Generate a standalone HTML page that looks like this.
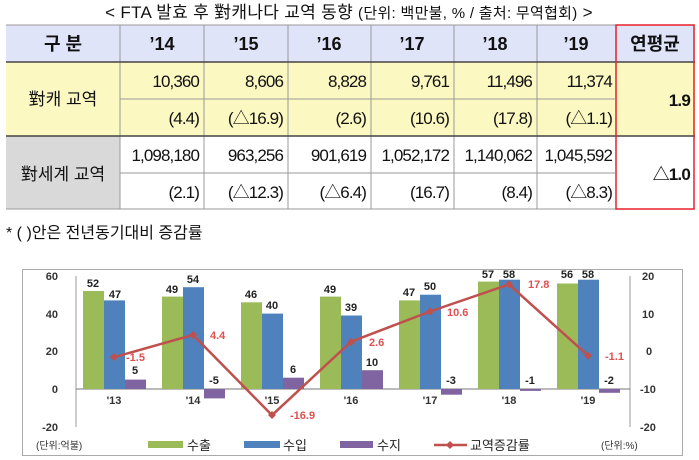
<!DOCTYPE html>
<html><head><meta charset="utf-8"><style>
html,body{margin:0;padding:0;background:#fff;}
svg{display:block;font-family:"Liberation Sans","Noto Sans CJK KR",sans-serif;}
</style></head><body>
<svg width="699" height="460" viewBox="0 0 699 460" xmlns="http://www.w3.org/2000/svg">
<text x="349" y="18" font-size="17" text-anchor="middle" fill="#111" letter-spacing="0.3">&lt; FTA 발효 후 對캐나다 교역 동향 <tspan font-size="15">(단위: 백만불, % / 출처: 무역협회)</tspan> &gt;</text>
<rect x="6" y="25" width="689" height="37" fill="#dfe4f8"/>
<rect x="6" y="62" width="689" height="74" fill="#fbf8c2"/>
<rect x="6" y="136" width="114" height="73" fill="#d9d9d9"/>
<g stroke="#9a9a9a" stroke-width="1">
<line x1="6" y1="25" x2="695" y2="25"/>
<line x1="120" y1="99" x2="615" y2="99"/>
<line x1="120" y1="173" x2="615" y2="173"/>
<line x1="6" y1="209" x2="695" y2="209"/>
<line x1="120" y1="25" x2="120" y2="209"/>
<line x1="204" y1="25" x2="204" y2="209"/>
<line x1="288" y1="25" x2="288" y2="209"/>
<line x1="371" y1="25" x2="371" y2="209"/>
<line x1="454" y1="25" x2="454" y2="209"/>
<line x1="537" y1="25" x2="537" y2="209"/>
</g>
<line x1="6" y1="62" x2="695" y2="62" stroke="#444" stroke-width="1.5"/>
<line x1="6" y1="136" x2="695" y2="136" stroke="#444" stroke-width="1.5"/>
<rect x="616" y="25" width="78" height="184" fill="none" stroke="#e8202a" stroke-width="1.5"/>
<g font-size="18" font-weight="bold" text-anchor="middle" fill="#111">
<text x="63" y="50">구 분</text>
<text x="162" y="50">’14</text>
<text x="246" y="50">’15</text>
<text x="329" y="50">’16</text>
<text x="412" y="50">’17</text>
<text x="495" y="50">’18</text>
<text x="576" y="50">’19</text>
<text x="655" y="50">연평균</text>
</g>
<g font-size="17" fill="#111">
<text x="63" y="105" text-anchor="middle">對캐 교역</text>
<text x="63" y="180" text-anchor="middle">對세계 교역</text>
</g>
<g font-size="17" text-anchor="end" fill="#111" letter-spacing="-0.9">
<text x="199" y="87">10,360</text><text x="283" y="87">8,606</text><text x="366" y="87">8,828</text><text x="449" y="87">9,761</text><text x="532" y="87">11,496</text><text x="612" y="87">11,374</text>
<text x="199" y="124">(4.4)</text><text x="283" y="124">(△16.9)</text><text x="366" y="124">(2.6)</text><text x="449" y="124">(10.6)</text><text x="532" y="124">(17.8)</text><text x="612" y="124">(△1.1)</text>
<text x="199" y="161">1,098,180</text><text x="283" y="161">963,256</text><text x="366" y="161">901,619</text><text x="449" y="161">1,052,172</text><text x="532" y="161">1,140,062</text><text x="612" y="161">1,045,592</text>
<text x="199" y="198">(2.1)</text><text x="283" y="198">(△12.3)</text><text x="366" y="198">(△6.4)</text><text x="449" y="198">(16.7)</text><text x="532" y="198">(8.4)</text><text x="612" y="198">(△8.3)</text>
</g>
<g font-size="17" font-weight="bold" text-anchor="end" fill="#111" letter-spacing="-0.8">
<text x="690" y="106">1.9</text>
<text x="690" y="180">△1.0</text>
</g>
<text x="6" y="238" font-size="16" fill="#111">* ( )안은 전년동기대비 증감률</text>

<rect x="22.5" y="269.5" width="660" height="186" fill="#fff" stroke="#aaa"/>
<line x1="76" y1="276" x2="76" y2="427" stroke="#999"/>
<line x1="630" y1="276" x2="630" y2="427" stroke="#999"/>
<line x1="76" y1="389" x2="630" y2="389" stroke="#777"/>
<g font-size="11" font-weight="bold" fill="#333" text-anchor="end">
<text x="58" y="280">60</text><text x="58" y="318">40</text><text x="58" y="355">20</text><text x="58" y="393">0</text><text x="58" y="431">-20</text>
</g>
<g font-size="11" font-weight="bold" fill="#333">
<text x="642" y="280">20</text><text x="642" y="318">10</text><text x="646" y="355">0</text><text x="640" y="393">-10</text><text x="640" y="431">-20</text>
</g>
<g font-size="11" font-weight="bold" fill="#222" text-anchor="middle">
<rect x="83" y="291" width="21" height="98" fill="#9bbb59"/>
<rect x="104" y="300.4" width="21" height="88.6" fill="#4f81bd"/>
<rect x="125" y="379.6" width="21" height="9.4" fill="#8064a2"/>
<text x="93" y="287">52</text><text x="115" y="298">47</text><text x="135" y="374">5</text>
<rect x="162" y="296.6" width="21" height="92.4" fill="#9bbb59"/>
<rect x="183" y="287.2" width="21" height="101.8" fill="#4f81bd"/>
<rect x="204" y="389" width="21" height="9.4" fill="#8064a2"/>
<text x="172" y="293">49</text><text x="193" y="283">54</text><text x="214" y="384">-5</text>
<rect x="241" y="302.3" width="21" height="86.7" fill="#9bbb59"/>
<rect x="262" y="313.6" width="21" height="75.4" fill="#4f81bd"/>
<rect x="283" y="377.7" width="21" height="11.3" fill="#8064a2"/>
<text x="251" y="298">46</text><text x="272" y="309">40</text><text x="293" y="373">6</text>
<rect x="320" y="296.6" width="21" height="92.4" fill="#9bbb59"/>
<rect x="341" y="315.5" width="21" height="73.5" fill="#4f81bd"/>
<rect x="362" y="370.2" width="21" height="18.8" fill="#8064a2"/>
<text x="330" y="293">49</text><text x="351" y="311">39</text><text x="372" y="366">10</text>
<rect x="399" y="300.4" width="21" height="88.6" fill="#9bbb59"/>
<rect x="420" y="294.7" width="21" height="94.3" fill="#4f81bd"/>
<rect x="441" y="389" width="21" height="5.7" fill="#8064a2"/>
<text x="409" y="296">47</text><text x="430" y="290">50</text><text x="451" y="384">-3</text>
<rect x="478" y="281.6" width="21" height="107.4" fill="#9bbb59"/>
<rect x="499" y="279.7" width="21" height="109.3" fill="#4f81bd"/>
<rect x="520" y="389" width="21" height="1.9" fill="#8064a2"/>
<text x="488" y="278">57</text><text x="509" y="278">58</text><text x="530" y="384">-1</text>
<rect x="557" y="283.5" width="21" height="105.5" fill="#9bbb59"/>
<rect x="578" y="279.7" width="21" height="109.3" fill="#4f81bd"/>
<rect x="599" y="389" width="21" height="3.8" fill="#8064a2"/>
<text x="567" y="278">56</text><text x="588" y="278">58</text><text x="609" y="384">-2</text>
</g>
<g font-size="11" font-weight="bold" fill="#333" text-anchor="middle">
<text x="114" y="404">'13</text><text x="193" y="404">'14</text><text x="272" y="404">'15</text><text x="351" y="404">'16</text><text x="430" y="404">'17</text><text x="509" y="404">'18</text><text x="588" y="404">'19</text>
</g>
<polyline points="114,357.2 193,334.9 272,415.2 351,341.7 430,311.5 509,284.4 588,355.6" fill="none" stroke="#c0504d" stroke-width="2.5"/>
<g fill="#c0504d">
<path d="M114,353 l4,4 l-4,4 l-4,-4z"/><path d="M193,331 l4,4 l-4,4 l-4,-4z"/><path d="M272,411 l4,4 l-4,4 l-4,-4z"/><path d="M351,338 l4,4 l-4,4 l-4,-4z"/><path d="M430,307.5 l4,4 l-4,4 l-4,-4z"/><path d="M509,280.4 l4,4 l-4,4 l-4,-4z"/><path d="M588,351.6 l4,4 l-4,4 l-4,-4z"/>
</g>
<g font-size="11" font-weight="bold" fill="#e05050">
<text x="126" y="361">-1.5</text><text x="210" y="339">4.4</text><text x="290" y="419">-16.9</text><text x="369" y="346">2.6</text><text x="447" y="316">10.6</text><text x="528" y="288">17.8</text><text x="605" y="360">-1.1</text>
</g>
<g font-size="10" fill="#333"><text x="36" y="449">(단위:억불)</text><text x="601" y="449">(단위:%)</text></g>
<rect x="148" y="441" width="35" height="7" fill="#9bbb59"/>
<rect x="244" y="441" width="36" height="7" fill="#4f81bd"/>
<rect x="340" y="441" width="33" height="7" fill="#8064a2"/>
<line x1="434" y1="445" x2="467" y2="445" stroke="#c0504d" stroke-width="2.5"/>
<path d="M450,441 l4,4 l-4,4 l-4,-4z" fill="#c0504d"/>
<g font-size="13" fill="#222"><text x="187" y="450">수출</text><text x="283" y="450">수입</text><text x="377" y="450">수지</text><text x="470" y="450">교역증감률</text></g>
</svg>
</body></html>
